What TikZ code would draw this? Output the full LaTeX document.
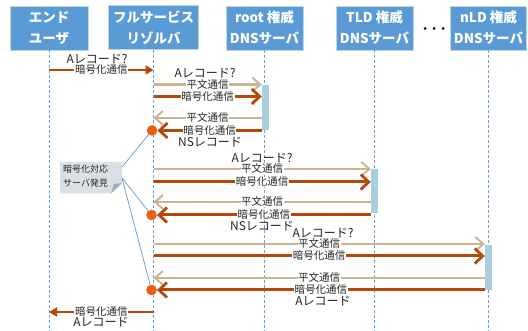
\documentclass[tikz,border=0pt]{standalone}
\usepackage{fontspec}
\setmainfont{Noto Sans CJK JP}
\usetikzlibrary{arrows.meta}
\definecolor{hdrblue}{RGB}{91,155,213}
\definecolor{hdrline}{RGB}{190,212,236}
\definecolor{lifeblue}{RGB}{100,160,215}
\definecolor{darkor}{RGB}{182,72,10}
\definecolor{tanc}{RGB}{203,180,145}
\definecolor{circor}{RGB}{234,94,12}
\definecolor{barblue}{RGB}{170,205,224}
\definecolor{callfill}{RGB}{217,225,231}
\definecolor{callfold}{RGB}{160,172,183}
\definecolor{callline}{RGB}{95,150,210}
\tikzset{
  hdr/.style={rectangle, fill=hdrblue, draw=hdrline, line width=0.6pt, text=white,
    font=\bfseries\fontsize{13.5}{21}\selectfont, align=center, minimum height=44pt, inner sep=0pt},
  life/.style={draw=lifeblue, line width=0.8pt, dash pattern=on 3pt off 2pt},
  actbar/.style={rectangle, fill=barblue, draw=none, minimum width=7pt, inner sep=0pt},
  enc/.style={draw=darkor, line width=3pt, -{Straight Barb[length=8pt,width=15pt,line width=2.8pt]}},
  pl/.style={draw=tanc, line width=2.4pt, -{Straight Barb[length=8pt,width=14pt,line width=2pt]}},
  eua/.style={draw=darkor, line width=2pt, -{Triangle[length=8pt,width=9pt]}},
  lbl/.style={fill=white, inner sep=0.6pt, font=\fontsize{10.5}{11}\selectfont, text=black!85},
  qlbl/.style={inner sep=0pt, font=\fontsize{12}{13}\selectfont, text=black!85},
  circn/.style={circle, fill=circor, draw=none, minimum size=10.5pt, inner sep=0pt},
  cline/.style={draw=callline, line width=0.7pt},
}
\begin{document}
\begin{tikzpicture}[x=1pt,y=-1pt]
\useasboundingbox (0,0) rectangle (528,331);
\fill[white] (0,0) rectangle (528,331);

% headers
\node[hdr, minimum width=78pt] (eu) at (49,28) {エンド\\ユーザ};
\node[hdr, minimum width=90pt] (fr) at (153.5,27.5) {フルサービス\\リゾルバ};
\node[hdr, minimum width=77pt] (rt) at (264.5,28) {root 権威\\DNSサーバ};
\node[hdr, minimum width=77pt] (tl) at (374.5,28) {TLD 権威\\DNSサーバ};
\node[hdr, minimum width=76pt] (nl) at (488.5,28) {nLD 権威\\DNSサーバ};
\fill[black] (425,28.5) circle (1.5pt) (434,28.5) circle (1.5pt) (443,28.5) circle (1.5pt);

% lifelines
\draw[life] (eu.south) -- (eu.south |- 0,331);
\draw[life] (fr.south) -- (fr.south |- 0,331);
\draw[life] (rt.south) -- (rt.south |- 0,331);
\draw[life] (tl.south) -- (tl.south |- 0,331);
\draw[life] (nl.south) -- (nl.south |- 0,331);

% activation bars
\node[actbar, minimum height=45pt] (rb) at (265.5,107.5) {};
\node[actbar, minimum height=44pt] (tb) at (374.5,191) {};
\node[actbar, minimum height=45pt] (nb) at (488.5,267.5) {};

% circles
\node[circn] (c1) at (152,130.5) {};
\node[circn] (c2) at (151.5,215) {};
\node[circn] (c3) at (151.5,290) {};

% end user -> resolver
\node[qlbl] (q0) at (97,59.5) {Aレコード?};
\draw[eua] (eu.south |- 0,70) -- (fr.south |- 0,70) node[lbl, midway] {暗号化通信};

% root
\node[qlbl] (q1) at (205,73.5) {Aレコード?};
\draw[pl] (fr.south |- 0,84.5) -- (rb.west |- 0,84.5) node[lbl, midway] {平文通信};
\draw[enc] (fr.south |- 0,96.5) -- (rb.west |- 0,96.5) node[lbl, midway] {暗号化通信};
\draw[pl] (rb.west |- 0,118) -- (fr.south |- 0,118) node[lbl, midway] {平文通信};
\draw[enc] (rb.west |- c1) -- (c1.east) node[lbl, midway] {暗号化通信};
\node[qlbl] (n1) at (210,142) {NSレコード};

% TLD
\node[qlbl] (q2) at (262,158.5) {Aレコード?};
\draw[pl] (fr.south |- 0,169) -- (tb.west |- 0,169) node[lbl, midway] {平文通信};
\draw[enc] (fr.south |- 0,182) -- (tb.west |- 0,182) node[lbl, midway] {暗号化通信};
\draw[pl] (tb.west |- 0,202) -- (fr.south |- 0,202) node[lbl, midway] {平文通信};
\draw[enc] (tb.west |- c2) -- (c2.east) node[lbl, midway] {暗号化通信};
\node[qlbl] (n2) at (262,226) {NSレコード};

% nLD
\node[qlbl] (q3) at (323,233) {Aレコード?};
\draw[pl] (fr.south |- 0,244) -- (nb.west |- 0,244) node[lbl, midway] {平文通信};
\draw[enc] (fr.south |- 0,256) -- (nb.west |- 0,256) node[lbl, midway] {暗号化通信};
\draw[pl] (nb.west |- 0,278) -- (fr.south |- 0,278) node[lbl, midway] {平文通信};
\draw[enc] (nb.west |- c3) -- (c3.east) node[lbl, midway] {暗号化通信};
\node[qlbl] (n3) at (323,301) {Aレコード};

% resolver -> end user
\draw[eua] (fr.south |- 0,312) -- (eu.south |- 0,312) node[lbl, midway] {暗号化通信};
\node[qlbl] (a0) at (101,322.5) {Aレコード};

% callout
\fill[callfill] (60,162) -- (122,162) -- (122,183) -- (111,193.5) -- (60,193.5) -- cycle;
\fill[callfold] (111,193.5) -- (114,184) -- (122,183) -- cycle;
\node[inner sep=0pt, anchor=north west, align=left, font=\fontsize{9}{13.5}\selectfont, text=black!85] (co) at (63,165) {暗号化対応\\サーバ発見};
\coordinate (co1) at (122,167);
\coordinate (co2) at (122,178);
\draw[cline] (co1) -- (c1);
\draw[cline] (co2) -- (c2);
\draw[cline] (co2) -- (c3);
\end{tikzpicture}
\end{document}
